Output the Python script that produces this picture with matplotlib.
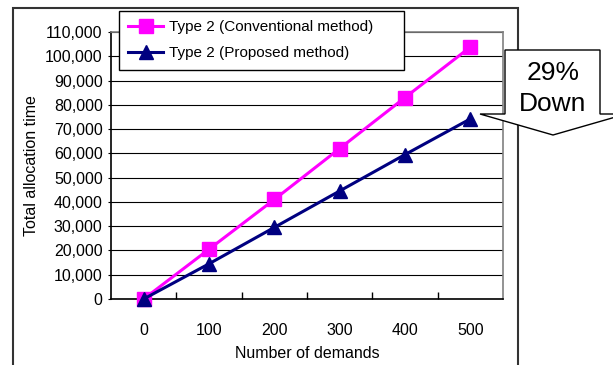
import matplotlib
matplotlib.use("Agg")
import matplotlib.pyplot as plt
from matplotlib.patches import Polygon, Rectangle
from matplotlib.ticker import FuncFormatter

plt.rcParams['font.family'] = ['Liberation Sans', 'DejaVu Sans']

# datos
demands = ['0', '100', '200', '300', '400', '500']
conventional = [0, 20500, 41000, 62000, 83000, 103800]
proposed = [0, 14500, 29500, 44500, 59500, 74200]
y_ticks = list(range(0, 110001, 10000))

W, H = 613, 365
fig = plt.figure(figsize=(W / 100, H / 100), dpi=100)
ax = fig.add_axes([111 / W, 1 - 299 / H, (503 - 111) / W, (299 - 32) / H])

x = list(range(len(demands)))
l1, = ax.plot(x, conventional, color='#FF00FF', lw=2.2, marker='s', ms=10,
              label='Type 2 (Conventional method)', clip_on=False, zorder=4)
l2, = ax.plot(x, proposed, color='#000080', lw=2.2, marker='^', ms=10,
              label='Type 2 (Proposed method)', clip_on=False, zorder=5)

ax.set_xlim(-0.5, len(demands) - 0.5)
ax.set_ylim(0, 110000)
ax.set_yticks(y_ticks)
ax.yaxis.set_major_formatter(FuncFormatter(lambda v, p: f'{int(v):,}'))
ax.yaxis.grid(True, color='black', lw=0.8)
ax.set_axisbelow(True)
ax.tick_params(axis='y', direction='out', length=2, labelsize=11.5, pad=4)

# ticks del eje x entre categorias, etiquetas en el centro
ax.set_xticks([i + 0.5 for i in range(len(demands) - 1)])
ax.set_xticklabels([])
ax.tick_params(axis='x', which='major', direction='in', length=5, width=1)
ax.set_xticks(x, minor=True)
ax.set_xticklabels(demands, minor=True)
ax.tick_params(axis='x', which='minor', length=0, labelsize=11.5, pad=17)

for s in ['left', 'bottom']:
    ax.spines[s].set_color('black')
    ax.spines[s].set_linewidth(1.2)
for s in ['top', 'right']:
    ax.spines[s].set_color('#808080')
    ax.spines[s].set_linewidth(1.2)

ax.set_xlabel('Number of demands', fontsize=11.5, labelpad=6)
ax.set_ylabel('Total allocation time', fontsize=11.5, labelpad=4)

# marco exterior
fig.patches.append(Rectangle((13 / W, -0.05), (518 - 13) / W, 1.05 - 8 / H,
                             transform=fig.transFigure, fill=False,
                             edgecolor='#333333', lw=1.5, zorder=0))

# leyenda: caja de 119 a 404 px
leg = fig.legend(handles=[l1, l2], loc='upper left',
                 bbox_to_anchor=(119 / W, 1 - 71 / H, 285 / W, 60 / H),
                 mode='expand', fontsize=11,
                 fancybox=False, framealpha=1, edgecolor='black',
                 handlelength=2.3, borderpad=0.6, labelspacing=0.8,
                 handletextpad=0.4, borderaxespad=0)
leg.get_frame().set_linewidth(1.0)
leg.set_zorder(10)

# flecha "29% Down"
pts = [(505, 50), (600, 50), (600, 114), (626, 114), (553, 135),
       (480, 114), (505, 114)]
poly = Polygon([(px / W, 1 - py / H) for px, py in pts], closed=True,
               transform=fig.transFigure, facecolor='white',
               edgecolor='black', lw=1.0, zorder=20)
fig.patches.append(poly)
fig.text(553 / W, 1 - 73 / H, '29%', fontsize=19, ha='center', va='center', zorder=21)
fig.text(553 / W, 1 - 104 / H, 'Down', fontsize=19, ha='center', va='center', zorder=21)

fig.savefig('out.png', dpi=100)
